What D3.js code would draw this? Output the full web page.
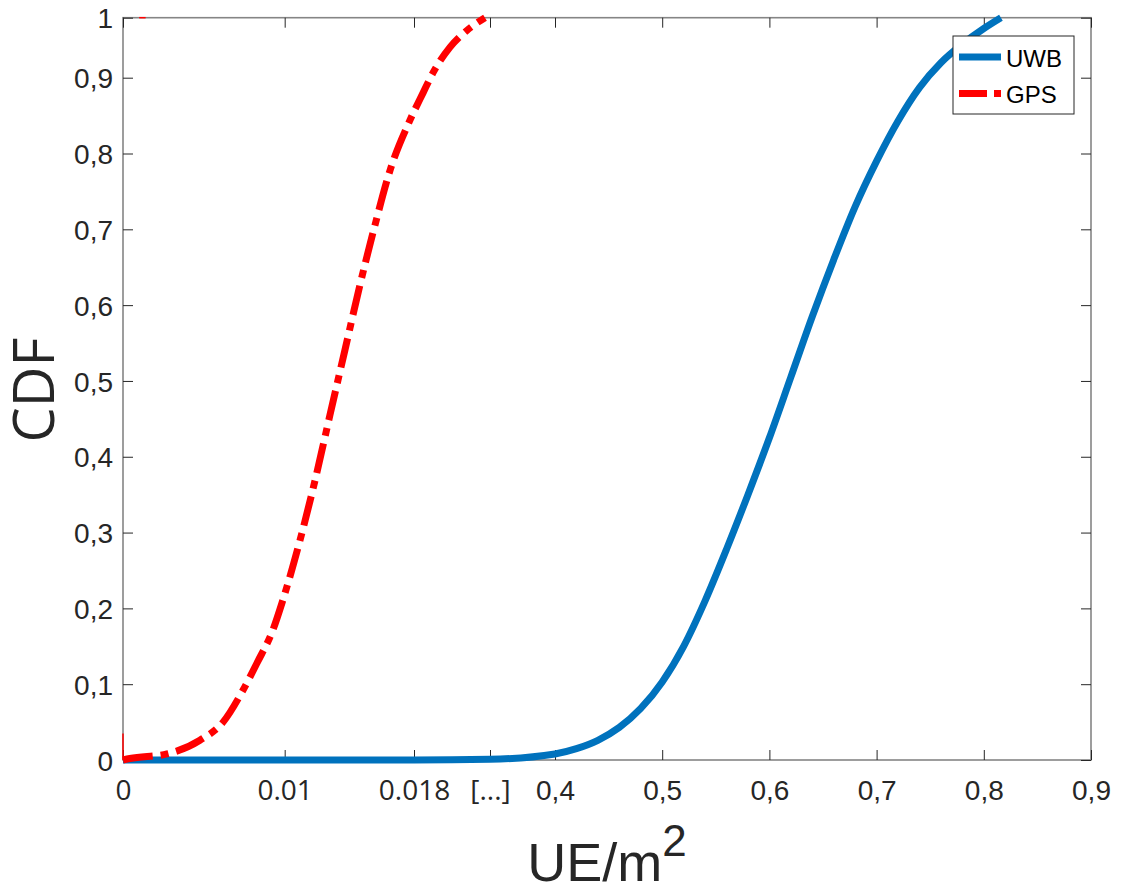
<!DOCTYPE html>
<html>
<head>
<meta charset="utf-8">
<script src="https://cdn.jsdelivr.net/npm/d3@7"></script>
<style>
  html, body { margin: 0; padding: 0; background: #fff; }
  svg { display: block; }
</style>
</head>
<body>
<div id="chart"></div>
<script>
// broken x axis: first part 0..0.0227, then 0.4..0.9
const xBreaks = [0, 0.0227, 0.4, 0.9]
const xTickValues = [0, 0.01, 0.018, 0.0227, 0.4, 0.5, 0.6, 0.7, 0.8, 0.9]
const xTickLabels = ['0', '0.01', '0.018', '[...]', '0,4', '0,5', '0,6', '0,7', '0,8', '0,9']
const yTickValues = [0, 0.1, 0.2, 0.3, 0.4, 0.5, 0.6, 0.7, 0.8, 0.9, 1]
const yTickLabels = ['0', '0,1', '0,2', '0,3', '0,4', '0,5', '0,6', '0,7', '0,8', '0,9', '1']

const uwbX = [0, 0.018, 0.0227, 0.4, 0.42, 0.44, 0.46, 0.48, 0.5, 0.52, 0.54, 0.56, 0.58, 0.6,
  0.62, 0.64, 0.66, 0.68, 0.7, 0.72, 0.74, 0.76, 0.78, 0.8, 0.816]
const uwbY = [0, 0, 0.001, 0.008, 0.015, 0.026, 0.043, 0.068, 0.103, 0.15, 0.21, 0.278, 0.35, 0.425,
  0.505, 0.585, 0.66, 0.73, 0.79, 0.843, 0.887, 0.925, 0.956, 0.982, 1.0]

const gpsX = [0, 0.00043, 0.00272, 0.00476, 0.00619, 0.00742, 0.00829, 0.00928, 0.00983, 0.01095,
  0.01188, 0.0128, 0.01373, 0.01466, 0.01559, 0.01652, 0.01775, 0.01856, 0.01917, 0.02023, 0.02128, 0.02239]
const gpsY = [0, 0.002, 0.008, 0.026, 0.05, 0.092, 0.128, 0.172, 0.207, 0.29,
  0.369, 0.455, 0.541, 0.627, 0.706, 0.778, 0.844, 0.88, 0.908, 0.951, 0.979, 1.0]

// thin red traces of the GPS CDF
const gpsSpikeX = [0, 0]
const gpsSpikeY = [0, 0.035]
const gpsTopX = [0.001, 0.0014]
const gpsTopY = [1, 1]

const seriesNames = ['UWB', 'GPS']

const W = 1121, H = 888
const PLOT = { left: 123, top: 17.7, right: 1091, bottom: 760 }
const innerW = PLOT.right - PLOT.left
const innerH = PLOT.bottom - PLOT.top

const svg = d3.select('#chart').append('svg')
  .attr('width', W).attr('height', H)

const g = svg.append('g').attr('transform', `translate(${PLOT.left},${PLOT.top})`)

const x = d3.scaleLinear()
  .domain(xBreaks)
  .range([0, 367, 432, innerW])

// top tick "1" sits closer than the regular spacing
const y = d3.scaleLinear()
  .domain([0, 0.9, 1])
  .range([innerH, 60, 0])

const AX = '#262626'
const openSans = '"Open Sans", sans-serif'
const arial = '"Liberation Sans", Arial, sans-serif'
const GPS_DASH = '30,8,8,8'

// box
g.append('rect')
  .attr('width', innerW).attr('height', innerH)
  .attr('fill', 'none').attr('stroke', '#858585').attr('stroke-width', 1.6)

// x axis ticks (bottom and top, inward)
g.append('g')
  .attr('transform', `translate(0,${innerH})`)
  .call(d3.axisBottom(x).tickValues(xTickValues).tickSizeInner(-10).tickSizeOuter(0)
    .tickFormat((d, i) => xTickLabels[i]))
  .call(sel => sel.select('.domain').remove())
  .call(sel => sel.selectAll('.tick line').attr('stroke', AX).attr('stroke-width', 1))
  .call(sel => sel.selectAll('.tick text')
    .attr('y', 0).attr('dy', 0)
    .attr('transform', 'translate(0,40)')
    .style('font-size', '28px')
    .style('font-family', (d, i) => i < 4 ? openSans : arial)
    .attr('fill', AX))

g.append('g')
  .call(d3.axisTop(x).tickValues(xTickValues).tickSizeInner(-10).tickSizeOuter(0).tickFormat(''))
  .call(sel => sel.select('.domain').remove())
  .call(sel => sel.selectAll('.tick line').attr('stroke', AX).attr('stroke-width', 1))

// y axis ticks (left and right, inward)
g.append('g')
  .call(d3.axisLeft(y).tickValues(yTickValues).tickSizeInner(-10).tickSizeOuter(0)
    .tickFormat((d, i) => yTickLabels[i]))
  .call(sel => sel.select('.domain').remove())
  .call(sel => sel.selectAll('.tick line').attr('stroke', AX).attr('stroke-width', 1))
  .call(sel => sel.selectAll('.tick text')
    .attr('x', -10).attr('dy', '0.36em')
    .style('font-size', '28px')
    .style('font-family', arial)
    .attr('fill', AX))

g.append('g')
  .attr('transform', `translate(${innerW},0)`)
  .call(d3.axisRight(y).tickValues(yTickValues).tickSizeInner(-10).tickSizeOuter(0).tickFormat(''))
  .call(sel => sel.select('.domain').remove())
  .call(sel => sel.selectAll('.tick line').attr('stroke', AX).attr('stroke-width', 1))

// curves
const line = d3.line()
  .x(d => x(d[0]))
  .y(d => y(d[1]))
  .curve(d3.curveMonotoneX)
const straight = d3.line().x(d => x(d[0])).y(d => y(d[1]))

g.append('path')
  .datum(d3.zip(uwbX, uwbY))
  .attr('fill', 'none')
  .attr('stroke', '#0072BD')
  .attr('stroke-width', 7)
  .attr('d', line)

g.selectAll('path.thin')
  .data([d3.zip(gpsSpikeX, gpsSpikeY), d3.zip(gpsTopX, gpsTopY)])
  .enter().append('path')
  .attr('class', 'thin')
  .attr('fill', 'none')
  .attr('stroke', '#FF0000')
  .attr('stroke-width', 1.5)
  .attr('d', straight)

g.append('path')
  .datum(d3.zip(gpsX, gpsY))
  .attr('fill', 'none')
  .attr('stroke', '#FF0000')
  .attr('stroke-width', 7)
  .attr('stroke-dasharray', GPS_DASH)
  .attr('d', line)

// axis labels
svg.append('text')
  .attr('transform', `translate(54,390) rotate(-90)`)
  .attr('text-anchor', 'middle')
  .style('font-family', openSans)
  .style('font-size', '56px')
  .attr('fill', AX)
  .text('CDF')

const xl = svg.append('text')
  .attr('x', PLOT.left + innerW / 2)
  .attr('y', 881)
  .attr('text-anchor', 'middle')
  .style('font-family', arial)
  .style('font-size', '54px')
  .attr('fill', AX)
xl.append('tspan').text('UE/m')
xl.append('tspan').attr('dy', -25).style('font-size', '44px').text('2')

// legend
const legend = svg.append('g').attr('transform', 'translate(953,36)')
legend.append('rect')
  .attr('width', 121).attr('height', 78)
  .attr('fill', '#fff').attr('stroke', AX).attr('stroke-width', 1)

const legendStyles = [
  { color: '#0072BD', dash: null },
  { color: '#FF0000', dash: '28,7,7,7' }
]
const items = legend.selectAll('g.item')
  .data(seriesNames)
  .enter().append('g')
  .attr('class', 'item')
  .attr('transform', (d, i) => `translate(0,${21 + i * 36.5})`)

items.append('line')
  .attr('x1', 6).attr('x2', 48)
  .attr('stroke', (d, i) => legendStyles[i].color)
  .attr('stroke-width', 7)
  .attr('stroke-dasharray', (d, i) => legendStyles[i].dash)

items.append('text')
  .attr('x', 53).attr('y', 9.5)
  .style('font-family', arial)
  .style('font-size', '24px')
  .attr('fill', '#000')
  .text(d => d)
</script>
</body>
</html>
